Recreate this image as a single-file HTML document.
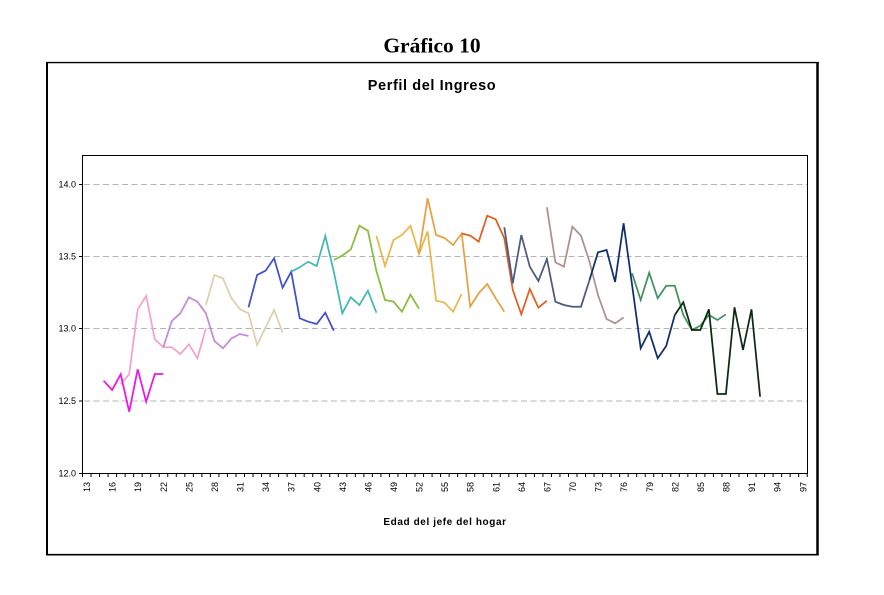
<!DOCTYPE html>
<html>
<head>
<meta charset="utf-8">
<style>
html,body{margin:0;padding:0;background:#fff;}
svg{display:block;}
</style>
</head>
<body>
<svg width="884" height="595" viewBox="0 0 884 595" xmlns="http://www.w3.org/2000/svg">
<rect width="884" height="595" fill="#fff"/>
<!-- Title -->
<text x="432" y="52.5" text-anchor="middle" font-family="'Liberation Serif', serif" font-weight="bold" font-size="21.5">Gráfico 10</text>
<!-- Outer frame -->
<line x1="47" y1="62" x2="47" y2="555.5" stroke="#000" stroke-width="2"/>
<line x1="817.5" y1="62" x2="817.5" y2="555.5" stroke="#000" stroke-width="2.5"/>
<line x1="46" y1="62.6" x2="818.7" y2="62.6" stroke="#000" stroke-width="1.4"/>
<line x1="46" y1="554.7" x2="818.7" y2="554.7" stroke="#000" stroke-width="1.6"/>
<!-- chart title -->
<text x="432" y="90" text-anchor="middle" font-family="'Liberation Sans', sans-serif" font-weight="bold" font-size="14.5" letter-spacing="0.6">Perfil del Ingreso</text>
<!-- gridlines -->
<g stroke="#b4b4b4" stroke-width="1" stroke-dasharray="6,3.5">
<line x1="84" y1="184.5" x2="807" y2="184.5"/>
<line x1="84" y1="256.5" x2="807" y2="256.5"/>
<line x1="84" y1="328.5" x2="807" y2="328.5"/>
<line x1="84" y1="401" x2="807" y2="401"/>
</g>
<!-- plot box -->
<rect x="82.5" y="155.5" width="725" height="318" fill="none" stroke="#000" stroke-width="1"/>
<!-- y ticks -->
<g stroke="#000" stroke-width="1">
<line x1="79" y1="184.5" x2="82.5" y2="184.5"/>
<line x1="79" y1="256.5" x2="82.5" y2="256.5"/>
<line x1="79" y1="328.5" x2="82.5" y2="328.5"/>
<line x1="79" y1="401" x2="82.5" y2="401"/>
<line x1="79" y1="473.5" x2="82.5" y2="473.5"/>
</g>
<g font-family="'Liberation Sans', sans-serif" font-size="9" text-anchor="end" fill="#000">
<text x="76" y="187.5">14.0</text>
<text x="76" y="259.5">13.5</text>
<text x="76" y="331.5">13.0</text>
<text x="76" y="404">12.5</text>
<text x="76" y="476.5">12.0</text>
</g>
<!-- x ticks -->
<g stroke="#000" stroke-width="1" id="xt"></g>
<g id="xl" font-family="'Liberation Sans', sans-serif" font-size="9" fill="#000"></g>
<text x="445" y="525" text-anchor="middle" font-family="'Liberation Sans', sans-serif" font-weight="bold" font-size="10" letter-spacing="0.6">Edad del jefe del hogar</text>
<!-- series -->
<g fill="none" stroke-width="1.75" stroke-linejoin="miter">
<polyline stroke="#f4a2cc" points="120.7,384 129.2,374.3 137.7,309.3 146.2,296 154.8,339.3 163.3,347.3 171.8,347.3 180.3,354 188.9,344.3 197.4,358.3 205.9,328.3"/>
<polyline stroke="#ee14e6" points="103.6,380.7 112.1,390 120.7,374.3 129.2,411.7 137.7,369.3 146.2,401.7 154.8,374 163.3,374"/>
<polyline stroke="#c68ad8" points="163.3,347.3 171.8,321 180.3,313.3 188.9,297.3 197.4,301.7 205.9,313.3 214.4,341 223.0,348.3 231.5,338.3 240.0,334 248.5,336"/>
<polyline stroke="#dcd0ae" points="205.9,305 214.4,275 223.0,278.3 231.5,298.3 240.0,309.3 248.5,313.3 257.1,345 265.6,327.3 274.1,310 282.6,332.7"/>
<polyline stroke="#3f4fd0" points="248.5,307.3 257.1,275 265.6,270.7 274.1,258.3 282.6,287.7 291.2,271.7 299.7,318.3 308.2,321.7 316.7,324 325.3,312.7 333.8,330.7"/>
<polyline stroke="#42b8b6" points="291.2,271.7 299.7,267.3 308.2,261.7 316.7,266 325.3,236 333.8,271.7 342.3,313.3 350.8,297.3 359.4,305 367.9,290.7 376.4,312.7"/>
<polyline stroke="#8abc3c" points="333.8,260 342.3,255.5 350.8,249.5 359.4,225.7 367.9,230.7 376.4,271 385.0,300 393.5,301.7 402.0,311.7 410.5,294.7 419.0,308.7"/>
<polyline stroke="#e8b84a" points="376.4,236 385.0,266 393.5,240 402.0,235 410.5,225.7 419.0,254 427.6,231.3 436.1,300.7 444.6,302.7 453.1,311.7 461.7,294"/>
<polyline stroke="#e8a042" points="419.0,254 427.6,198.3 436.1,235 444.6,238 453.1,245 461.7,233.5 470.2,306.7 478.7,293.3 487.2,284 495.7,298.3 504.3,311.7"/>
<polyline stroke="#e06022" points="461.7,233.5 470.2,235.5 478.7,241.7 487.2,215.7 495.7,219.3 504.3,238.3 512.8,290 521.3,314.3 529.8,289 538.4,307.7 546.9,300.7"/>
<polyline stroke="#4c5a80" points="504.3,227.3 512.8,283.3 521.3,235 529.8,266.7 538.4,281 546.9,259 555.4,301.7 563.9,305 572.4,306.7 581.0,306.7 589.5,280"/>
<polyline stroke="#ad9090" points="546.9,207.3 555.4,262.3 563.9,266.7 572.4,226.7 581.0,235.7 589.5,261.7 598.0,295 606.6,319 615.1,323.3 623.6,317.5"/>
<polyline stroke="#409262" points="632.1,273.3 640.7,300 649.2,272.7 657.7,298.3 666.2,285.7 674.8,285.7 683.3,315 691.8,330 700.3,325.7 708.9,315 717.4,320 725.9,314.3"/>
<polyline stroke="#0f2f6c" points="589.5,280 598.0,252.3 606.6,250 615.1,282 623.6,223.3 632.1,285 640.7,348.3 649.2,331.7 657.7,358.3 666.2,346 674.8,315"/>
<polyline stroke="#0c2a12" points="674.8,315 683.3,302.3 691.8,330 700.3,330 708.9,309.3 717.4,394 725.9,394 734.5,307.3 743.0,350 751.5,309.3 760.1,396.7"/>
</g>
<script>
(function(){
var ns="http://www.w3.org/2000/svg";
var xt=document.getElementById("xt"), xl=document.getElementById("xl");
var x0=82.5, w=8.526;
for(var k=0;k<=85;k++){
 var x=x0+k*w;
 var l=document.createElementNS(ns,"line");
 l.setAttribute("x1",x.toFixed(2));l.setAttribute("x2",x.toFixed(2));
 l.setAttribute("y1","473.5");l.setAttribute("y2","477");
 xt.appendChild(l);
}
for(var a=13;a<=97;a+=3){
 var cx=x0+(a-12.5)*w;
 var t=document.createElementNS(ns,"text");
 t.setAttribute("transform","translate("+(cx+3.3).toFixed(2)+",482) rotate(-90)");
 t.setAttribute("text-anchor","end");
 t.textContent=String(a);
 xl.appendChild(t);
}
})();
</script>
</svg>
</body>
</html>
